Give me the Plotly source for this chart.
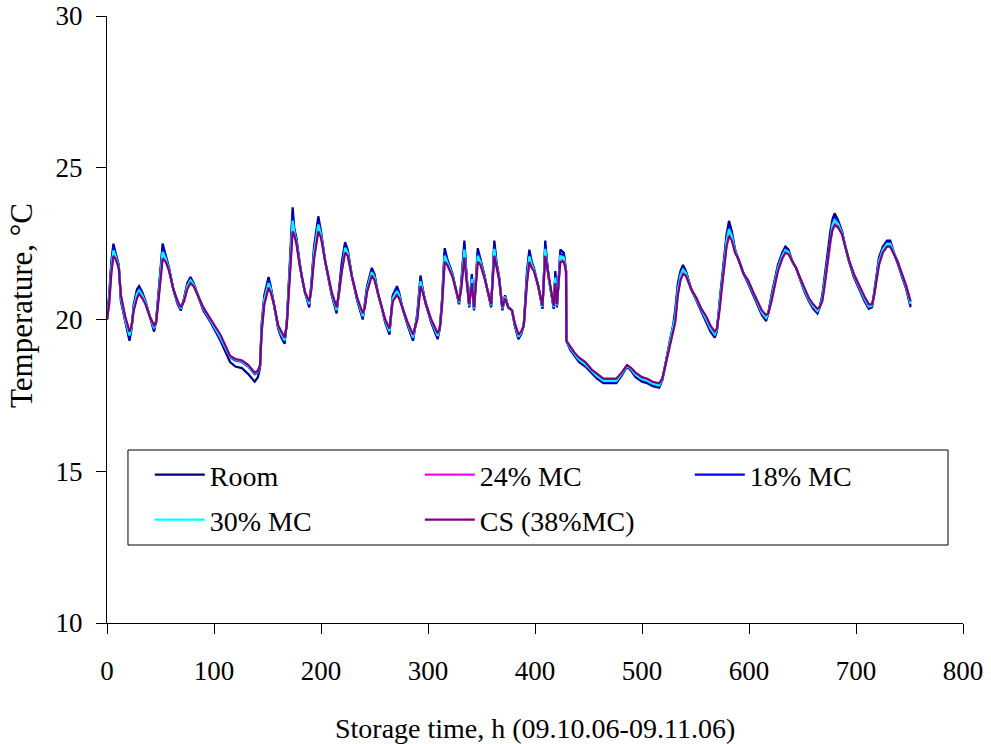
import plotly.graph_objects as go

hours = [0, 2, 4, 6, 8, 11, 13, 17, 21, 23, 25, 28, 30, 33, 36, 40, 44, 46, 48, 50,
         52, 55, 58, 62, 66, 69, 72, 75, 78, 81, 85, 90, 97, 106, 115, 120, 126, 132, 138, 141,
         143, 144.6, 147, 151, 153, 156, 160, 163, 166, 168, 170, 172, 173.5, 175, 177, 180, 182, 185, 189, 191,
         193.5, 197.5, 200, 204, 210, 214.6, 217, 219.5, 222.5, 225, 229, 234, 239, 241, 243, 247.5, 250, 253.5, 256, 260,
         264, 267, 271, 273, 276, 281, 286, 290, 293, 295, 298, 303, 309, 311, 313, 315.6, 318, 323, 326, 329,
         331, 334, 336, 338.5, 341, 343, 346.5, 349, 352.5, 356, 359, 362, 364, 366.5, 369.5, 372, 375, 378.5, 381, 384.5,
         387, 389.5, 392.5, 394.7, 397, 399, 403, 407, 409.6, 411, 413, 417.5, 419, 420.5, 422, 423.7, 427, 429, 429.3, 433,
         437, 441, 447, 453, 458, 464, 470, 476, 481, 486, 490, 494, 500, 505, 510, 516, 519, 521, 524, 526,
         529, 531, 533.5, 536, 538.3, 541, 546, 551, 555.5, 560, 564, 568, 570, 572.5, 574.5, 576.5, 579, 581.3, 584, 587,
         590, 595, 599, 604, 608.4, 612, 616, 618, 621, 624, 627, 631, 634, 637, 640.5, 644, 648, 652, 656, 660,
         664, 666, 668.5, 671, 673, 676, 678, 680, 683, 687, 690, 693.5, 698, 703, 708, 712, 715, 717, 719, 721.5,
         725, 729, 732, 735.5, 739, 743, 747, 751]

room = [20.0, 20.8, 21.9, 22.5, 22.2, 21.8, 20.6, 19.9, 19.3, 19.7, 20.5, 21.0, 21.1, 20.9, 20.6, 20.1, 19.6, 20.0, 20.9, 21.8,
        22.5, 22.1, 21.7, 21.0, 20.5, 20.3, 20.7, 21.2, 21.4, 21.2, 20.8, 20.3, 19.9, 19.3, 18.6, 18.45, 18.4, 18.2, 17.95, 18.1,
        18.4, 19.9, 20.8, 21.4, 21.1, 20.5, 19.7, 19.4, 19.2, 19.9, 21.3, 22.8, 23.7, 23.0, 22.7, 21.9, 21.4, 20.9, 20.4, 21.2,
        22.4, 23.4, 22.9, 21.9, 20.8, 20.2, 21.0, 21.9, 22.55, 22.3, 21.4, 20.6, 20.0, 20.5, 21.1, 21.7, 21.5, 20.8, 20.5, 19.9,
        19.5, 20.8, 21.1, 20.9, 20.4, 19.8, 19.3, 20.2, 21.45, 21.0, 20.5, 19.9, 19.35, 19.7, 20.6, 22.35, 22.0, 21.5, 21.0, 20.5,
        21.2, 22.6, 21.5, 20.4, 21.5, 20.3, 22.35, 22.0, 21.5, 20.9, 20.4, 22.6, 21.9, 21.4, 20.3, 20.8, 20.4, 20.3, 19.8, 19.35,
        19.5, 19.8, 21.6, 22.3, 21.9, 21.7, 21.1, 20.35, 22.6, 22.0, 21.35, 20.35, 21.6, 20.4, 21.4, 22.3, 22.2, 21.6, 19.3, 19.0,
        18.8, 18.6, 18.45, 18.25, 18.05, 17.9, 17.9, 17.9, 18.15, 18.45, 18.3, 18.1, 17.95, 17.9, 17.8, 17.75, 18.0, 18.4, 19.0, 19.3,
        19.8, 20.3, 21.2, 21.6, 21.8, 21.6, 21.0, 20.6, 20.25, 19.9, 19.6, 19.4, 19.6, 20.6, 21.3, 21.9, 22.8, 23.25, 22.9, 22.3,
        22.0, 21.5, 21.2, 20.8, 20.4, 20.15, 19.95, 20.2, 20.8, 21.3, 21.8, 22.2, 22.4, 22.3, 21.9, 21.7, 21.3, 20.9, 20.6, 20.35,
        20.2, 20.4, 20.8, 21.5, 22.1, 22.9, 23.3, 23.5, 23.3, 22.9, 22.4, 21.9, 21.4, 21.0, 20.6, 20.35, 20.4, 20.9, 21.5, 22.05,
        22.4, 22.6, 22.6, 22.2, 21.9, 21.4, 21.0, 20.4]

mc24 = [20.0, 20.55, 21.56, 22.16, 22.03, 21.72, 20.77, 20.07, 19.56, 19.79, 20.33, 20.75, 20.89, 20.73, 20.52, 20.1, 19.77, 19.92, 20.65, 21.46,
        22.08, 21.93, 21.62, 21.0, 20.59, 20.39, 20.62, 21.03, 21.23, 21.12, 20.8, 20.39, 19.99, 19.47, 18.8, 18.7, 18.65, 18.5, 18.25, 18.3,
        18.5, 19.65, 20.55, 21.1, 20.93, 20.5, 19.79, 19.57, 19.37, 19.82, 20.96, 22.38, 23.02, 22.83, 22.53, 21.82, 21.4, 20.9, 20.57, 21.03,
        22.06, 22.98, 22.73, 21.9, 20.89, 20.37, 20.92, 21.65, 22.25, 22.13, 21.4, 20.69, 20.17, 20.42, 20.93, 21.49, 21.33, 20.8, 20.5, 19.99,
        19.67, 20.63, 20.85, 20.73, 20.4, 19.89, 19.47, 20.03, 21.15, 20.92, 20.5, 19.99, 19.52, 19.7, 20.43, 21.97, 21.83, 21.42, 21.0, 20.59,
        21.03, 22.13, 21.33, 20.49, 21.25, 20.39, 21.97, 21.83, 21.42, 20.9, 20.49, 22.18, 21.73, 21.32, 20.39, 20.72, 20.4, 20.3, 19.89, 19.48,
        19.59, 19.8, 21.26, 21.96, 21.73, 21.62, 21.1, 20.44, 22.18, 21.83, 21.31, 20.44, 21.26, 20.49, 21.23, 21.96, 21.95, 21.6, 19.3, 19.09,
        18.89, 18.73, 18.58, 18.34, 18.18, 18.03, 18.03, 18.03, 18.24, 18.49, 18.39, 18.23, 18.08, 18.03, 17.93, 17.88, 18.04, 18.36, 18.83, 19.13,
        19.55, 19.96, 20.86, 21.35, 21.55, 21.47, 21.0, 20.69, 20.34, 20.07, 19.77, 19.57, 19.69, 20.35, 21.05, 21.65, 22.46, 22.83, 22.65, 22.22,
        22.0, 21.5, 21.29, 20.89, 20.53, 20.28, 20.12, 20.2, 20.63, 21.13, 21.63, 22.03, 22.23, 22.17, 21.9, 21.7, 21.34, 20.99, 20.69, 20.48,
        20.33, 20.4, 20.63, 21.25, 21.85, 22.65, 23.0, 23.16, 23.09, 22.82, 22.4, 21.94, 21.49, 21.09, 20.73, 20.48, 20.49, 20.82, 21.33, 21.84,
        22.23, 22.43, 22.43, 22.16, 21.9, 21.49, 21.09, 20.57]

mc18 = [20.0, 20.71, 21.78, 22.38, 22.14, 21.77, 20.66, 19.96, 19.39, 19.73, 20.44, 20.91, 21.03, 20.84, 20.57, 20.1, 19.66, 19.97, 20.81, 21.68,
        22.35, 22.04, 21.67, 21.0, 20.53, 20.33, 20.67, 21.14, 21.34, 21.17, 20.8, 20.33, 19.93, 19.36, 18.75, 18.65, 18.6, 18.45, 18.2, 18.25,
        18.45, 19.8, 20.7, 21.3, 21.05, 20.5, 19.73, 19.46, 19.26, 19.87, 21.18, 22.65, 23.46, 22.94, 22.64, 21.87, 21.4, 20.9, 20.46, 21.14,
        22.28, 23.25, 22.84, 21.9, 20.83, 20.26, 20.97, 21.81, 22.45, 22.24, 21.4, 20.63, 20.06, 20.47, 21.04, 21.63, 21.44, 20.8, 20.5, 19.93,
        19.56, 20.74, 21.01, 20.84, 20.4, 19.83, 19.36, 20.14, 21.35, 20.97, 20.5, 19.93, 19.41, 19.7, 20.54, 22.22, 21.94, 21.47, 21.0, 20.53,
        21.14, 22.44, 21.44, 20.43, 21.41, 20.33, 22.22, 21.94, 21.47, 20.9, 20.43, 22.45, 21.84, 21.37, 20.33, 20.77, 20.4, 20.3, 19.83, 19.4,
        19.53, 19.8, 21.48, 22.18, 21.84, 21.67, 21.1, 20.38, 22.45, 21.94, 21.34, 20.38, 21.48, 20.43, 21.34, 22.18, 22.11, 21.6, 19.3, 19.03,
        18.83, 18.65, 18.5, 18.28, 18.1, 17.95, 17.95, 17.95, 18.18, 18.47, 18.33, 18.15, 18.0, 17.95, 17.85, 17.8, 18.02, 18.39, 18.94, 19.24,
        19.71, 20.18, 21.08, 21.51, 21.71, 21.56, 21.0, 20.63, 20.28, 19.96, 19.66, 19.46, 19.63, 20.51, 21.21, 21.81, 22.68, 23.1, 22.81, 22.27,
        22.0, 21.5, 21.23, 20.83, 20.45, 20.2, 20.01, 20.2, 20.74, 21.24, 21.74, 22.14, 22.34, 22.26, 21.9, 21.7, 21.32, 20.93, 20.63, 20.4,
        20.25, 20.4, 20.74, 21.41, 22.01, 22.81, 23.2, 23.38, 23.23, 22.87, 22.4, 21.92, 21.43, 21.03, 20.65, 20.4, 20.43, 20.87, 21.44, 21.98,
        22.34, 22.54, 22.54, 22.19, 21.9, 21.43, 21.03, 20.46]

mc30 = [20.0, 20.64, 21.68, 22.28, 22.09, 21.75, 20.71, 20.01, 19.47, 19.76, 20.39, 20.84, 20.96, 20.79, 20.55, 20.1, 19.71, 19.95, 20.74, 21.58,
        22.23, 21.99, 21.65, 21.0, 20.56, 20.36, 20.65, 21.09, 21.29, 21.15, 20.8, 20.36, 19.96, 19.41, 18.77, 18.68, 18.62, 18.47, 18.22, 18.27,
        18.47, 19.75, 20.65, 21.2, 21.0, 20.5, 19.76, 19.51, 19.31, 19.85, 21.08, 22.53, 23.26, 22.89, 22.59, 21.85, 21.4, 20.9, 20.51, 21.09,
        22.18, 23.13, 22.79, 21.9, 20.86, 20.31, 20.95, 21.74, 22.36, 22.19, 21.4, 20.66, 20.11, 20.45, 20.99, 21.56, 21.39, 20.8, 20.5, 19.96,
        19.61, 20.69, 20.94, 20.79, 20.4, 19.86, 19.41, 20.09, 21.26, 20.95, 20.5, 19.96, 19.46, 19.7, 20.49, 22.1, 21.89, 21.45, 21.0, 20.56,
        21.09, 22.3, 21.39, 20.46, 21.34, 20.36, 22.1, 21.89, 21.45, 20.9, 20.46, 22.33, 21.79, 21.35, 20.36, 20.75, 20.4, 20.3, 19.86, 19.43,
        19.56, 19.8, 21.38, 22.08, 21.79, 21.65, 21.1, 20.41, 22.33, 21.89, 21.32, 20.41, 21.38, 20.46, 21.29, 22.08, 22.04, 21.6, 19.3, 19.06,
        18.86, 18.68, 18.53, 18.31, 18.13, 17.98, 17.98, 17.98, 18.21, 18.48, 18.36, 18.18, 18.03, 17.98, 17.88, 17.83, 18.03, 18.37, 18.89, 19.19,
        19.64, 20.08, 20.98, 21.44, 21.64, 21.52, 21.0, 20.66, 20.31, 20.01, 19.71, 19.51, 19.66, 20.44, 21.14, 21.74, 22.58, 22.98, 22.74, 22.25,
        22.0, 21.5, 21.26, 20.86, 20.48, 20.23, 20.06, 20.2, 20.69, 21.19, 21.69, 22.09, 22.29, 22.22, 21.9, 21.7, 21.33, 20.96, 20.66, 20.43,
        20.28, 20.4, 20.69, 21.34, 21.94, 22.74, 23.11, 23.28, 23.16, 22.85, 22.4, 21.93, 21.46, 21.06, 20.68, 20.43, 20.46, 20.85, 21.39, 21.91,
        22.29, 22.49, 22.49, 22.17, 21.9, 21.46, 21.06, 20.51]

cs38 = [20.0, 20.5, 21.5, 22.1, 22.0, 21.7, 20.8, 20.1, 19.6, 19.8, 20.3, 20.7, 20.85, 20.7, 20.5, 20.1, 19.8, 19.9, 20.6, 21.4,
        22.0, 21.9, 21.6, 21.0, 20.6, 20.4, 20.6, 21.0, 21.2, 21.1, 20.8, 20.4, 20.0, 19.5, 18.8, 18.7, 18.65, 18.5, 18.25, 18.3,
        18.5, 19.6, 20.5, 21.05, 20.9, 20.5, 19.8, 19.6, 19.4, 19.8, 20.9, 22.3, 22.9, 22.8, 22.5, 21.8, 21.4, 20.9, 20.6, 21.0,
        22.0, 22.9, 22.7, 21.9, 20.9, 20.4, 20.9, 21.6, 22.2, 22.1, 21.4, 20.7, 20.2, 20.4, 20.9, 21.45, 21.3, 20.8, 20.5, 20.0,
        19.7, 20.6, 20.8, 20.7, 20.4, 19.9, 19.5, 20.0, 21.1, 20.9, 20.5, 20.0, 19.55, 19.7, 20.4, 21.9, 21.8, 21.4, 21.0, 20.6,
        21.0, 22.05, 21.3, 20.5, 21.2, 20.4, 21.9, 21.8, 21.4, 20.9, 20.5, 22.1, 21.7, 21.3, 20.4, 20.7, 20.4, 20.3, 19.9, 19.5,
        19.6, 19.8, 21.2, 21.9, 21.7, 21.6, 21.1, 20.45, 22.1, 21.8, 21.3, 20.45, 21.2, 20.5, 21.2, 21.9, 21.9, 21.6, 19.3, 19.1,
        18.9, 18.75, 18.6, 18.35, 18.2, 18.05, 18.05, 18.05, 18.25, 18.5, 18.4, 18.25, 18.1, 18.05, 17.95, 17.9, 18.05, 18.35, 18.8, 19.1,
        19.5, 19.9, 20.8, 21.3, 21.5, 21.45, 21.0, 20.7, 20.35, 20.1, 19.8, 19.6, 19.7, 20.3, 21.0, 21.6, 22.4, 22.75, 22.6, 22.2,
        22.0, 21.5, 21.3, 20.9, 20.55, 20.3, 20.15, 20.2, 20.6, 21.1, 21.6, 22.0, 22.2, 22.15, 21.9, 21.7, 21.35, 21.0, 20.7, 20.5,
        20.35, 20.4, 20.6, 21.2, 21.8, 22.6, 22.95, 23.1, 23.05, 22.8, 22.4, 21.95, 21.5, 21.1, 20.75, 20.5, 20.5, 20.8, 21.3, 21.8,
        22.2, 22.4, 22.4, 22.15, 21.9, 21.5, 21.1, 20.6]

series_names = ["Room", "24% MC", "18% MC", "30% MC", "CS (38%MC)"]
series_values = [room, mc24, mc18, mc30, cs38]
series_colors = ["#000080", "#FF00FF", "#0000FF", "#00FFFF", "#800080"]
series_legend = ["legend", "legend", "legend", "legend2", "legend2"]

x_ticks = [0, 100, 200, 300, 400, 500, 600, 700, 800]
y_ticks = [10, 15, 20, 25, 30]

FONT = "Liberation Serif, Times New Roman, serif"

fig = go.Figure()
for name, vals, col, lg in zip(series_names, series_values, series_colors, series_legend):
    fig.add_trace(go.Scatter(x=hours, y=vals, mode="lines", name=name, legend=lg,
                             line=dict(color=col, width=2.2)))

legend_common = dict(
    orientation="h", xanchor="left", yanchor="middle",
    entrywidth=205, entrywidthmode="pixels", itemwidth=50,
    bgcolor="rgba(0,0,0,0)", borderwidth=0,
    font=dict(family=FONT, size=28, color="black"),
)

fig.update_layout(
    width=991, height=744,
    margin=dict(l=107, r=28, t=16, b=121),
    paper_bgcolor="white", plot_bgcolor="white",
    font=dict(family=FONT, size=27, color="black"),
    showlegend=True,
    legend=dict(x=0.050, y=0.2438, **legend_common),
    legend2=dict(x=0.050, y=0.1697, **legend_common),
    shapes=[dict(type="rect", xref="paper", yref="paper",
                 x0=0.0245, x1=0.9825, y0=0.1285, y1=0.285,
                 line=dict(color="black", width=1), fillcolor="white", layer="below")],
    xaxis=dict(
        range=[0, 800], tickvals=x_ticks, ticktext=[str(v) for v in x_ticks],
        showline=True, linecolor="black", linewidth=1, mirror=False,
        ticks="outside", ticklen=10, tickcolor="black", showgrid=False, zeroline=False,
        ticklabelstandoff=14, automargin=False, ticklabeloverflow="allow",
    ),
    yaxis=dict(
        range=[10, 30], tickvals=y_ticks, ticktext=[str(v) for v in y_ticks],
        showline=True, linecolor="black", linewidth=1, mirror=False,
        ticks="outside", ticklen=10, tickcolor="black", showgrid=False, zeroline=False,
        ticklabelstandoff=8, automargin=False, ticklabeloverflow="allow",
    ),
    annotations=[
        dict(text="Storage time, h (09.10.06-09.11.06)", xref="paper", yref="paper",
             x=0.5, y=-0.1745, xanchor="center", yanchor="middle", showarrow=False,
             font=dict(family=FONT, size=28, color="black")),
        dict(text="Temperature, °C", xref="paper", yref="paper",
             x=-0.0993, y=0.524, xanchor="center", yanchor="middle", showarrow=False,
             textangle=-90, font=dict(family=FONT, size=31, color="black")),
    ],
)

fig.write_html("out.html", config={"displayModeBar": False},
               post_script="document.body.style.margin='0';")
